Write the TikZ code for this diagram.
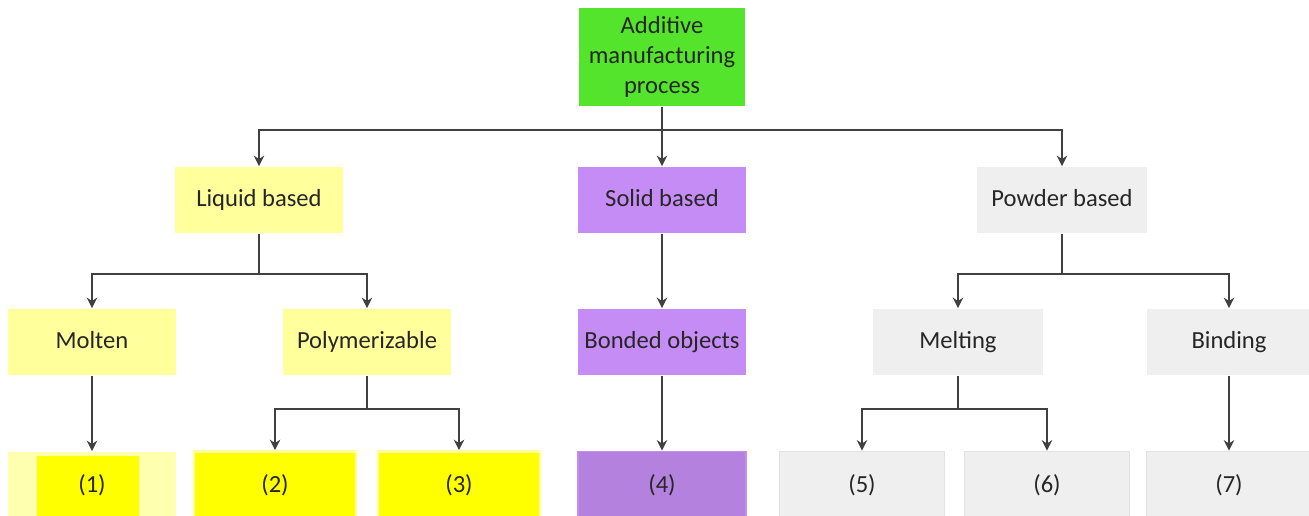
\documentclass[tikz,border=0pt]{standalone}
\usepackage{fontspec}
\setmainfont{Carlito}
\usetikzlibrary{arrows.meta}

\definecolor{procgreen}{RGB}{84,228,44}
\definecolor{paleyellow}{RGB}{255,255,156}
\definecolor{fullyellow}{RGB}{255,255,0}
\definecolor{lilac}{RGB}{197,140,245}
\definecolor{deeplilac}{RGB}{180,130,222}
\definecolor{palegray}{RGB}{239,239,239}
\definecolor{edgegray}{RGB}{226,226,226}
\definecolor{linegray}{RGB}{64,64,64}

\begin{document}
\begin{tikzpicture}[x=0.02cm,y=-0.02cm,>={Stealth[length=6pt,width=6pt]},
  box/.style={rectangle,minimum width=3.36cm,minimum height=1.34cm,inner sep=2pt,text=black!85,font=\fontsize{14}{17}\selectfont,text height=0.85em,text depth=0.15em},
  leaf/.style={box,minimum height=1.38cm},
  link/.style={draw=linegray,line width=0.85pt,->}]

  \clip (0,0) rectangle (1309,516);

  % top
  \node[box,fill=procgreen,minimum width=3.34cm,minimum height=1.98cm,align=center,text height=,text depth=] (root) at (662,57) {Additive\\manufacturing\\process};

  % second row
  \node[box,fill=paleyellow] (liquid) at (259,200) {Liquid based};
  \node[box,fill=lilac] (solid) at (662,200) {Solid based};
  \node[box,fill=palegray,minimum width=3.42cm] (powder) at (1062,200) {Powder based};

  % third row
  \node[box,fill=paleyellow] (molten) at (92,342) {Molten};
  \node[box,fill=paleyellow] (polymer) at (367,342) {Polymerizable};
  \node[box,fill=lilac] (bonded) at (662,342) {Bonded objects};
  \node[box,fill=palegray,minimum width=3.4cm] (melting) at (958,342) {Melting};
  \node[box,fill=palegray,minimum width=3.3cm] (binding) at (1229,342) {Binding};

  % bottom row
  \node[leaf,fill=paleyellow!80,minimum width=3.38cm,
    path picture={\fill[fullyellow] ([xshift=0.58cm,yshift=-0.08cm]path picture bounding box.north west) rectangle ([xshift=-0.74cm]path picture bounding box.south east);}] (p1) at (92,486) {(1)};
  \node[leaf,fill=fullyellow,draw=paleyellow,line width=1.5pt,minimum width=3.24cm] (p2) at (275,486) {(2)};
  \node[leaf,fill=fullyellow,draw=paleyellow,line width=1.5pt,minimum width=3.24cm] (p3) at (459,486) {(3)};
  \node[leaf,fill=deeplilac,draw=lilac,line width=1pt] (p4) at (662,486) {(4)};
  \node[leaf,fill=palegray,draw=edgegray,line width=1pt,minimum width=3.3cm] (p5) at (862,486) {(5)};
  \node[leaf,fill=palegray,draw=edgegray,line width=1pt,minimum width=3.3cm] (p6) at (1047,486) {(6)};
  \node[leaf,fill=palegray,draw=edgegray,line width=1pt,minimum width=3.3cm] (p7) at (1229,486) {(7)};

  % connectors
  \draw[link] (root.south) -- ++(0,23) -| (liquid.north);
  \draw[link] (root.south) -- (solid.north);
  \draw[link] (root.south) -- ++(0,23) -| (powder.north);

  \draw[link] (liquid.south) -- ++(0,40) -| (molten.north);
  \draw[link] (liquid.south) -- ++(0,40) -| (polymer.north);
  \draw[link] (solid.south) -- (bonded.north);
  \draw[link] (powder.south) -- ++(0,40) -| (melting.north);
  \draw[link] (powder.south) -- ++(0,40) -| (binding.north);

  \draw[link] (molten.south) -- (p1.north);
  \draw[link] (polymer.south) -- ++(0,33) -| (p2.north);
  \draw[link] (polymer.south) -- ++(0,33) -| (p3.north);
  \draw[link] (bonded.south) -- (p4.north);
  \draw[link] (melting.south) -- ++(0,33) -| (p5.north);
  \draw[link] (melting.south) -- ++(0,33) -| (p6.north);
  \draw[link] (binding.south) -- (p7.north);
\end{tikzpicture}
\end{document}
